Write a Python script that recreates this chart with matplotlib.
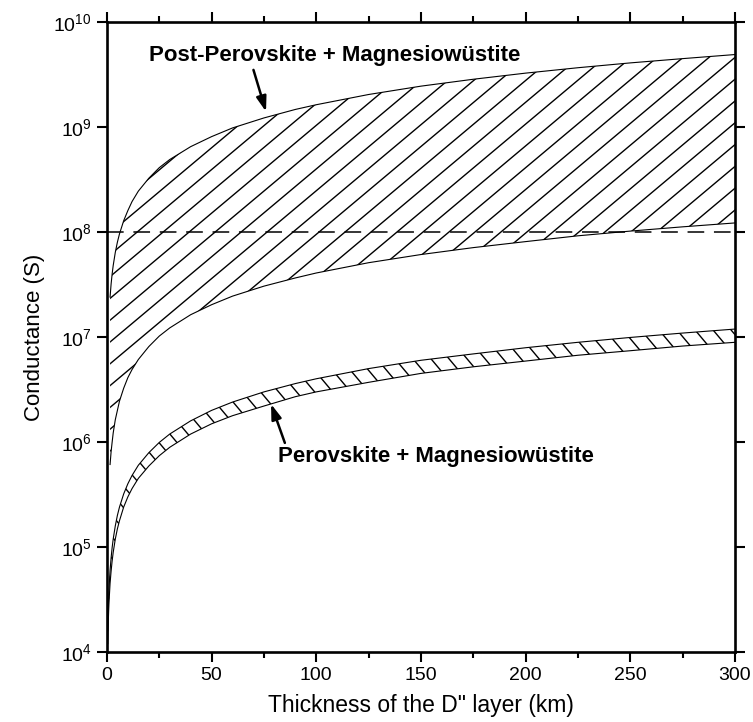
import numpy as np
import matplotlib
matplotlib.use('Agg')
import matplotlib.pyplot as plt
from matplotlib.collections import LineCollection
from matplotlib.ticker import MultipleLocator, NullLocator, LogLocator

# thickness of the D" layer (km)
x_ppv = [1.5, 2, 2.5, 3, 4, 5, 6, 8, 10, 12, 15, 20, 25, 30, 40, 50, 60, 75,
         90, 100, 125, 150, 175, 200, 225, 250, 275, 300]
# post-perovskite + magnesiowustite band (S)
ppv_hi = [2.4e7, 3.2e7, 4.0e7, 4.8e7, 6.4e7, 8.0e7, 9.6e7, 1.28e8, 1.6e8, 1.95e8,
          2.45e8, 3.25e8, 4.1e8, 4.9e8, 6.5e8, 8.1e8, 9.8e8, 1.22e9, 1.47e9,
          1.63e9, 2.04e9, 2.45e9, 2.85e9, 3.26e9, 3.67e9, 4.08e9, 4.48e9, 4.9e9]
ppv_lo = [6.1e5, 8.1e5, 1.0e6, 1.22e6, 1.63e6, 2.0e6, 2.45e6, 3.25e6, 4.1e6, 4.9e6,
          6.1e6, 8.1e6, 1.02e7, 1.22e7, 1.63e7, 2.03e7, 2.45e7, 3.05e7, 3.65e7,
          4.07e7, 5.1e7, 6.1e7, 7.1e7, 8.1e7, 9.2e7, 1.02e8, 1.12e8, 1.22e8]

x_pv = [0.4, 0.6, 0.8, 1, 1.5, 2, 2.5, 3, 4, 5, 6, 8, 10, 12, 15, 20, 25, 30,
        40, 50, 60, 75, 90, 100, 125, 150, 175, 200, 225, 250, 275, 300]
# perovskite + magnesiowustite band (S)
pv_hi = [1.6e4, 2.4e4, 3.2e4, 4.0e4, 6.0e4, 7.9e4, 9.9e4, 1.19e5, 1.59e5, 2.0e5,
         2.4e5, 3.2e5, 4.0e5, 4.8e5, 6.0e5, 7.9e5, 9.9e5, 1.19e6, 1.59e6, 2.0e6,
         2.4e6, 3.0e6, 3.6e6, 4.0e6, 5.0e6, 6.0e6, 6.9e6, 7.9e6, 8.9e6, 9.9e6,
         1.09e7, 1.19e7]
pv_lo = [1.2e4, 1.8e4, 2.4e4, 3.0e4, 4.5e4, 5.9e4, 7.4e4, 8.9e4, 1.19e5, 1.49e5,
         1.78e5, 2.4e5, 3.0e5, 3.6e5, 4.5e5, 5.9e5, 7.4e5, 8.9e5, 1.19e6, 1.49e6,
         1.78e6, 2.2e6, 2.7e6, 3.0e6, 3.7e6, 4.5e6, 5.2e6, 5.9e6, 6.7e6, 7.4e6,
         8.2e6, 8.9e6]

ref_level = 1e8

plt.rcParams['font.family'] = 'Liberation Sans'
plt.rcParams['mathtext.fontset'] = 'custom'
plt.rcParams['mathtext.rm'] = 'Liberation Sans'
plt.rcParams['lines.scale_dashes'] = False


def hatch_band(ax, fig, coll, angle, spacing, lw=1.0):
    # straight hatch lines (spacing in pixels) clipped to the band outline
    pos = ax.get_position()
    w = pos.width * fig.get_figwidth() * fig.dpi
    h = pos.height * fig.get_figheight() * fig.dpi
    t = np.deg2rad(angle)
    u = np.array([np.cos(t), np.sin(t)])
    n = np.array([-np.sin(t), np.cos(t)])
    L = np.hypot(w, h)
    c = np.array([w / 2, h / 2])
    segs = []
    for k in np.arange(-L / spacing, L / spacing + 1):
        p = c + k * spacing * n
        a = p - L * u
        b = p + L * u
        segs.append([(a[0] / w, a[1] / h), (b[0] / w, b[1] / h)])
    lc = LineCollection(segs, transform=ax.transAxes, colors='black', linewidths=lw)
    lc.set_clip_path(coll.get_paths()[0], coll.get_transform())
    ax.add_collection(lc, autolim=False)


def main():
    fig = plt.figure(figsize=(7.53, 7.22), dpi=100)
    ax = fig.add_axes([0.142, 0.097, 0.834, 0.8725])
    ax.set_yscale('log')
    ax.set_xlim(0, 300)
    ax.set_ylim(1e4, 1e10)

    band1 = ax.fill_between(x_ppv, ppv_lo, ppv_hi, facecolor='none', edgecolor='none')
    band2 = ax.fill_between(x_pv, pv_lo, pv_hi, facecolor='none', edgecolor='none')
    hatch_band(ax, fig, band1, 40, 16.7, lw=1.0)
    hatch_band(ax, fig, band2, -50, 13.8, lw=1.0)

    for xs, ys in [(x_ppv, ppv_hi), (x_ppv, ppv_lo), (x_pv, pv_hi), (x_pv, pv_lo)]:
        ax.plot(xs, ys, color='black', lw=0.8)

    ax.axhline(ref_level, color='black', lw=1.1, dashes=(12, 7))

    ax.text(109, 4.85e9, 'Post-Perovskite + Magnesiowüstite', fontsize=16,
            fontweight='bold', ha='center', va='center')
    ax.text(157, 7.2e5, 'Perovskite + Magnesiowüstite', fontsize=16,
            fontweight='bold', ha='center', va='center')
    arrow = dict(arrowstyle='-|>,head_length=0.9,head_width=0.3', color='black',
                 lw=1.8, mutation_scale=10, shrinkA=0, shrinkB=0)
    ax.annotate('', xy=(76, 1.4e9), xytext=(70, 3.5e9), arrowprops=arrow)
    ax.annotate('', xy=(78.4, 2.3e6), xytext=(85, 9.8e5), arrowprops=arrow)

    ax.xaxis.set_major_locator(MultipleLocator(50))
    ax.xaxis.set_minor_locator(MultipleLocator(25))
    ax.yaxis.set_major_locator(LogLocator(base=10, numticks=10))
    ax.yaxis.set_minor_locator(NullLocator())
    ax.tick_params(which='both', direction='out', top=True, right=True,
                   labelsize=14, width=1.5, pad=4)
    ax.tick_params(which='major', length=7)
    ax.tick_params(which='minor', length=4)
    for s in ax.spines.values():
        s.set_linewidth(1.9)

    ax.set_xlabel('Thickness of the D" layer (km)', fontsize=16.5, labelpad=7)
    ax.set_ylabel('Conductance (S)', fontsize=16, labelpad=6)

    fig.savefig('out.png', dpi=100)


if __name__ == '__main__':
    main()
